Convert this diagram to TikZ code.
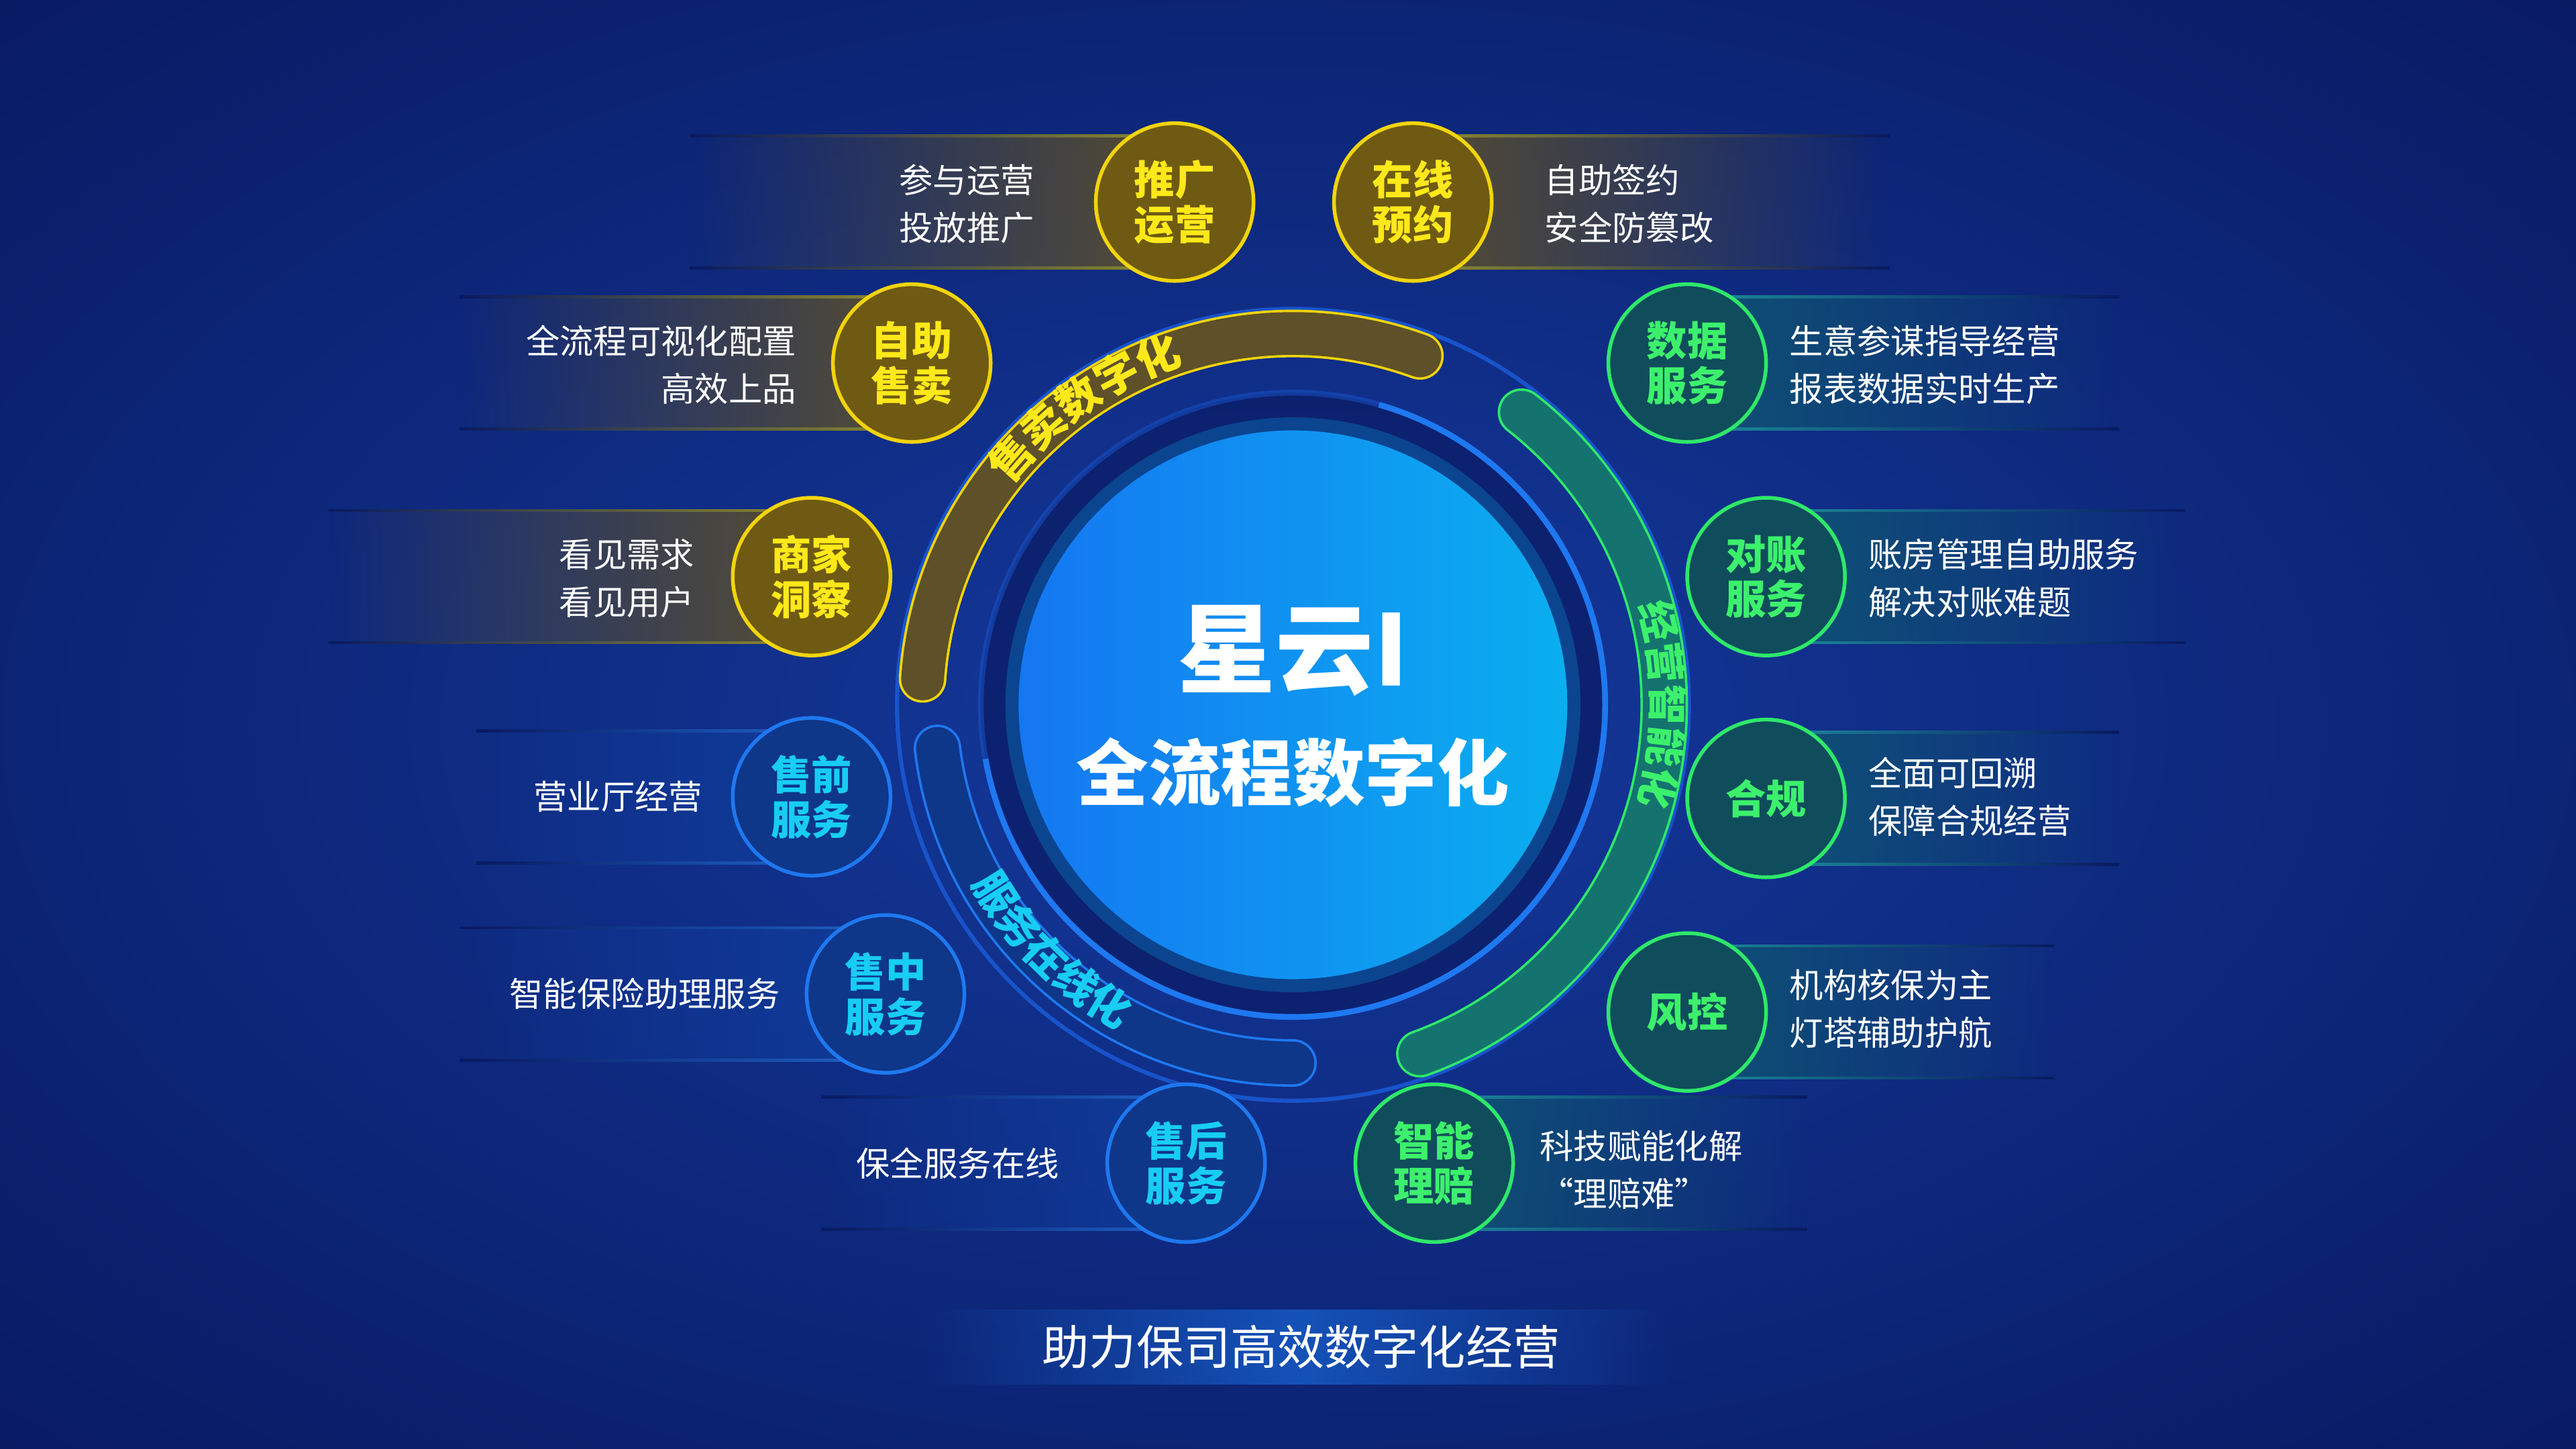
\documentclass[tikz,border=0pt]{standalone}
\usepackage{fontspec}
\setmainfont{Noto Sans CJK SC}
\usetikzlibrary{positioning,calc,fadings,decorations.text}

\definecolor{bgdark}{HTML}{081A62}
\definecolor{bgmid}{HTML}{14399C}
\definecolor{ylwline}{HTML}{F2D40C}
\definecolor{ylwfill}{HTML}{6E5A12}
\definecolor{ylwtext}{HTML}{FFE81A}
\definecolor{ylwband}{HTML}{5E5028}
\definecolor{ylwedge}{HTML}{8E8A2A}
\definecolor{grnline}{HTML}{2EE86A}
\definecolor{grnfill}{HTML}{0F4C5C}
\definecolor{grntext}{HTML}{3CF06C}
\definecolor{grnband}{HTML}{0E5670}
\definecolor{grnedge}{HTML}{1C8C9C}
\definecolor{blueline}{HTML}{1E78F0}
\definecolor{bluefill}{HTML}{0E3689}
\definecolor{bluetext}{HTML}{18CDF2}
\definecolor{bluband}{HTML}{0F3C9A}
\definecolor{bluedge}{HTML}{1F62C6}
\definecolor{ringline}{HTML}{1A5AD6}
\definecolor{ringfill}{HTML}{0B1E68}
\definecolor{corel}{HTML}{1577F2}
\definecolor{corer}{HTML}{0AAEF0}
\definecolor{slogan}{HTML}{1552B8}

\pgfdeclareradialshading{bgglow}{\pgfpoint{0bp}{0bp}}{color(0bp)=(bgmid); color(36bp)=(bgdark); color(50bp)=(bgdark)}
\tikzfading[name=fadeleft, left color=transparent!100, right color=transparent!0]
\tikzfading[name=faderight, left color=transparent!0, right color=transparent!100]
\tikzfading[name=fadeboth, left color=transparent!100, right color=transparent!100, middle color=transparent!0]

\tikzset{
  dot/.style={circle, line width=0.45mm, minimum size=19.2mm, inner sep=0pt, align=center,
    font=\bfseries\fontsize{14}{15.5}\selectfont},
  ylw/.style={dot, draw=ylwline, fill=ylwfill, text=ylwtext},
  grn/.style={dot, draw=grnline, fill=grnfill, text=grntext},
  blu/.style={dot, draw=blueline, fill=bluefill, text=bluetext},
  note/.style={text=white, inner sep=0pt, font=\fontsize{11.7}{16.5}\selectfont},
  arcword/.style={decorate, decoration={text along path, text align=center, text={#1}}},
}

\begin{document}
\begin{tikzpicture}[x=0.2mm, y=-0.2mm]
    % Background
    \shade[shading=bgglow] (0,0) rectangle (1568,882);
    \useasboundingbox (0,0) rectangle (1568,882);

    % Bands on the left
    \foreach \y/\xa/\xb/\c/\e in {123/420/715/ylwband/ylwedge, 221/280/555/ylwband/ylwedge,
        351/200/494/ylwband/ylwedge, 485/290/494/bluband/bluedge,
        605/280/539/bluband/bluedge, 708/500/722/bluband/bluedge} {
      \fill[\c, path fading=fadeleft, fill opacity=.9] (\xa,\y-40) rectangle (\xb,\y+40);
      \shade[left color=bgdark, right color=\e] (\xa,\y-41) rectangle (\xb,\y-39.5);
      \shade[left color=bgdark, right color=\e] (\xa,\y+39.5) rectangle (\xb,\y+41);
    }
    % Bands on the right
    \foreach \y/\xa/\xb/\c/\e in {123/860/1150/ylwband/ylwedge, 221/1027/1290/grnband/grnedge,
        351/1075/1330/grnband/grnedge, 486/1075/1290/grnband/grnedge,
        616/1027/1250/grnband/grnedge, 708/873/1100/grnband/grnedge} {
      \fill[\c, path fading=faderight, fill opacity=.9] (\xa,\y-40) rectangle (\xb,\y+40);
      \shade[left color=\e, right color=bgdark] (\xa,\y-41) rectangle (\xb,\y-39.5);
      \shade[left color=\e, right color=bgdark] (\xa,\y+39.5) rectangle (\xb,\y+41);
    }

    % Rings and arcs
    \begin{scope}[shift={(787,429)}, yscale=-1]
      \fill[ringfill, opacity=.8] (0,0) circle (190);
      \draw[ringline, line width=.7mm, opacity=.45] (0,0) circle (190);
      \draw[blueline, line width=.7mm] (74:190) arc[start angle=74, end angle=-170, radius=190];
      \draw[ringline, line width=.5mm, opacity=.85] (0,0) circle (241);

      % Sales arc
      \draw[ylwline, line width=5.8mm, line cap=round] (70:226) arc[start angle=70, end angle=176, radius=226];
      \draw[ylwband, line width=5.2mm, line cap=round] (70:226) arc[start angle=70, end angle=176, radius=226];
      \path[arcword={|\bfseries\fontsize{15}{16}\selectfont\color{ylwtext}|售卖数字化}]
        (150:218) arc[start angle=150, end angle=100, radius=218];

      % Operation arc
      \draw[grnline, line width=5.8mm, line cap=round] (52:226) arc[start angle=52, end angle=-70, radius=226];
      \draw[grnband!80!grnline, line width=5.2mm, line cap=round] (52:226) arc[start angle=52, end angle=-70, radius=226];
      \path[arcword={|\bfseries\fontsize{14}{15}\selectfont\color{grntext}|经营智能化}]
        (25:219) arc[start angle=25, end angle=-25, radius=219];

      % Service arc
      \draw[blueline, line width=5.8mm, line cap=round] (187:218) arc[start angle=187, end angle=270, radius=218];
      \draw[bluefill, line width=5.2mm, line cap=round] (187:218) arc[start angle=187, end angle=270, radius=218];
      \path[arcword={|\bfseries\fontsize{14.6}{15}\selectfont\color{bluetext}|服务在线化}]
        (200:224) arc[start angle=200, end angle=251, radius=224];
    \end{scope}

    % Core
    \fill[corer, opacity=.25] (787,429) circle (175);
    \shade[left color=corel, right color=corer] (787,429) circle (167);
    \node[text=white, font=\bfseries\fontsize{34}{36}\selectfont] (xingyun) at (787,396) {星云I};
    \node[text=white, font=\bfseries\fontsize{25}{27}\selectfont] (quanliucheng) at (787,470) {全流程数字化};

    % Circles
    \foreach \x/\y/\n/\t/\s in {715/123/tuiguang/{推广\\运营}/ylw, 860/123/zaixian/{在线\\预约}/ylw,
        555/221/zizhu/{自助\\售卖}/ylw, 494/351/shangjia/{商家\\洞察}/ylw,
        494/485/shouqian/{售前\\服务}/blu, 539/605/shouzhong/{售中\\服务}/blu,
        722/708/shouhou/{售后\\服务}/blu, 873/708/lipei/{智能\\理赔}/grn,
        1027/616/fengkong/{风控}/grn, 1075/486/hegui/{合规}/grn,
        1075/351/duizhang/{对账\\服务}/grn, 1027/221/shuju/{数据\\服务}/grn}
      \node[\s] (\n) at (\x,\y) {\t};

    % Notes on the left
    \node[note, anchor=east, align=right] (tuiguang-note) at (630,124) {参与运营\\投放推广};
    \node[note, anchor=east, align=right] (zizhu-note) at (485,222) {全流程可视化配置\\高效上品};
    \node[note, anchor=east, align=right] (shangjia-note) at (423,352) {看见需求\\看见用户};
    \node[note, anchor=east] (shouqian-note) at (428,485) {营业厅经营};
    \node[note, anchor=east] (shouzhong-note) at (475,605) {智能保险助理服务};
    \node[note, anchor=east] (shouhou-note) at (645,708) {保全服务在线};

    % Notes on the right
    \node[note, anchor=west, align=left] (zaixian-note) at (940,124) {自助签约\\安全防篡改};
    \node[note, anchor=west, align=left] (shuju-note) at (1089,222) {生意参谋指导经营\\报表数据实时生产};
    \node[note, anchor=west, align=left] (duizhang-note) at (1137,352) {账房管理自助服务\\解决对账难题};
    \node[note, anchor=west, align=left] (hegui-note) at (1137,485) {全面可回溯\\保障合规经营};
    \node[note, anchor=west, align=left] (fengkong-note) at (1089,614) {机构核保为主\\灯塔辅助护航};
    \node[note, anchor=west, align=left] (lipei-note) at (937,712) {科技赋能化解\\“理赔难”};

    % Slogan
    \fill[slogan, path fading=fadeboth] (560,797) rectangle (1020,843);
    \node[text=white, font=\fontsize{16.3}{18}\selectfont] (slogan) at (792,820) {助力保司高效数字化经营};
\end{tikzpicture}
\end{document}
